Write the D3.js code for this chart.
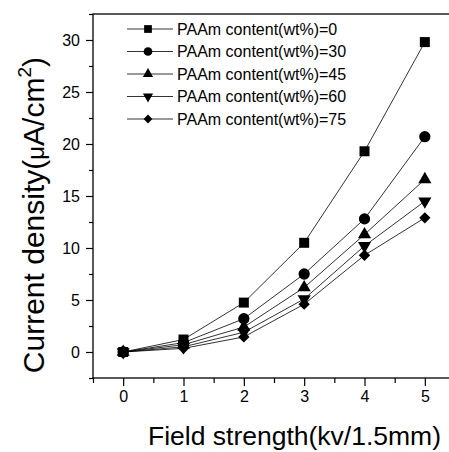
<html>
	<head>
		<meta charset="utf-8">
		<title>Current density</title>
		<style>
body {
	margin: 0;
	background: white;
	font-family: "Liberation Sans", Arial, sans-serif;
}
.axis .domain, .axis line {
	stroke: black;
	stroke-width: 1.2px;
}
.axis text {
	fill: black;
	font-family: "Liberation Sans", Arial, sans-serif;
	font-size: 16px;
}
.line {
	fill: none;
	stroke: black;
	stroke-width: 0.8px;
}
		</style>
	</head>
	<body>
<svg id="chart"></svg>
<script src="https://cdn.jsdelivr.net/npm/d3@7"></script>
<script>

var fieldStrength = [0, 1, 2, 3, 4, 5];
var seriesNames = ["PAAm content(wt%)=0", "PAAm content(wt%)=30", "PAAm content(wt%)=45",
	"PAAm content(wt%)=60", "PAAm content(wt%)=75"];
var paam0 = [0, 1.2, 4.75, 10.5, 19.3, 29.8];
var paam30 = [0, 0.9, 3.2, 7.5, 12.8, 20.7];
var paam45 = [0, 0.7, 2.4, 6.2, 11.3, 16.6];
var paam60 = [0, 0.5, 1.9, 5.1, 10.2, 14.5];
var paam75 = [0, 0.35, 1.45, 4.6, 9.3, 12.9];
var yTicks = [0, 5, 10, 15, 20, 25, 30];
var xTicks = [0, 1, 2, 3, 4, 5];

var allSeries = [paam0, paam30, paam45, paam60, paam75];
// square, circle, up triangle, down triangle, diamond
var symbols = ["square", "circle", "up", "down", "diamond"];

var W = 449, H = 452;
var margin = {top: 14, left: 93};
var width = 362, height = 364;

var svg = d3.select("#chart")
    .attr("width", W)
    .attr("height", H);

var x = d3.scaleLinear()
    .domain([-0.5, 5.5])
    .range([0, width]);
var y = d3.scaleLinear()
    .domain([-2.5, 32.5])
    .range([height, 0]);

var g = svg.append("g")
    .attr("transform", "translate(" + margin.left + "," + margin.top + ")");

// frame (right side falls outside the picture)
g.append("rect")
    .attr("x", 0).attr("y", 0)
    .attr("width", width).attr("height", height)
    .attr("fill", "none")
    .attr("stroke", "black")
    .attr("stroke-width", 1.3);

// minor ticks
g.append("g")
    .attr("class", "axis")
    .attr("transform", "translate(0," + height + ")")
    .call(d3.axisBottom(x).tickValues(d3.range(-0.5, 5.6, 1)).tickSize(5).tickFormat(""))
    .select(".domain").remove();
g.append("g")
    .attr("class", "axis")
    .call(d3.axisLeft(y).tickValues(d3.range(-2.5, 32.6, 5)).tickSize(4).tickFormat(""))
    .select(".domain").remove();

var xAxis = g.append("g")
    .attr("class", "axis")
    .attr("transform", "translate(0," + height + ")")
    .call(d3.axisBottom(x).tickValues(xTicks).tickSize(8).tickPadding(5).tickFormat(d3.format("d")));
xAxis.select(".domain").remove();

var yAxis = g.append("g")
    .attr("class", "axis")
    .call(d3.axisLeft(y).tickValues(yTicks).tickSize(7).tickPadding(6).tickFormat(d3.format("d")));
yAxis.select(".domain").remove();

function symbolPath(s, scale) {
	var size = {square: 100, circle: 100, up: 75, down: 75, diamond: 64}[s] * scale;
	var type = {square: d3.symbolSquare, circle: d3.symbolCircle, up: d3.symbolTriangle,
		down: d3.symbolTriangle, diamond: d3.symbolSquare}[s];
	return d3.symbol().type(type).size(size)();
}
function symbolRotate(s) {
	if (s === "down") return " rotate(180)";
	if (s === "diamond") return " rotate(45)";
	return "";
}

var line = d3.line()
    .x(function(d, i) { return x(fieldStrength[i]); })
    .y(function(d) { return y(d); });

allSeries.forEach(function(data, i) {
	g.append("path")
	    .datum(data)
	    .attr("class", "line")
	    .attr("d", line);
});

allSeries.forEach(function(data, i) {
	g.selectAll(".pt" + i)
	    .data(data)
	  .enter().append("path")
	    .attr("class", "pt" + i)
	    .attr("transform", function(d, j) {
	    	return "translate(" + x(fieldStrength[j]) + "," + y(d) + ")" + symbolRotate(symbols[i]);
	    })
	    .attr("d", symbolPath(symbols[i], 1))
	    .attr("fill", "black");
});

// legend
var legend = g.selectAll(".legend")
    .data(seriesNames)
  .enter().append("g")
    .attr("class", "legend")
    .attr("transform", function(d, i) { return "translate(0," + (15 + i * 22.5) + ")"; });
legend.append("line")
    .attr("x1", 34).attr("x2", 80)
    .attr("y1", 0).attr("y2", 0)
    .attr("stroke", "black")
    .attr("stroke-width", 0.8);
legend.append("path")
    .attr("transform", function(d, i) {
    	return "translate(55,0)" + symbolRotate(symbols[i]);
    })
    .attr("d", function(d, i) { return symbolPath(symbols[i], 0.6); })
    .attr("fill", "black");
legend.append("text")
    .attr("x", 84)
    .attr("dy", "0.36em")
    .style("font-size", "16px")
    .text(function(d) { return d; });

// axis titles
var yTitle = svg.append("text")
    .attr("transform", "translate(44,57) rotate(-90)")
    .attr("text-anchor", "end")
    .style("font-size", "30px")
    .text("Current density(");
yTitle.append("tspan").style("font-size", "24px").text("μ");
yTitle.append("tspan").text("A/cm");
yTitle.append("tspan").attr("dy", -13).style("font-size", "19px").text("2");
yTitle.append("tspan").attr("dy", 13).text(")");

svg.append("text")
    .attr("x", 294.5)
    .attr("y", 445)
    .attr("text-anchor", "middle")
    .style("font-size", "26.5px")
    .text("Field strength(kv/1.5mm)");

</script>
	</body>
</html>
